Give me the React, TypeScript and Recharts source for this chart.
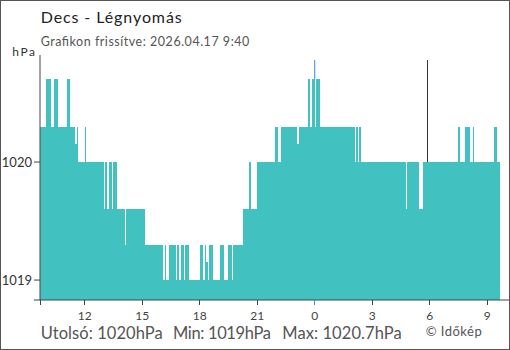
import { ComposedChart, Area, XAxis, YAxis, ReferenceLine } from 'recharts'

// station: Decs, 5-minute samples from 9:40 to 9:40 next day (hPa)
const pressure = [
  1020.3, 1020.3, 1020.3, 1020.3, 1020.7, 1020.7, 1020.7, 1020.3, 1020.3, 1020.7, 1020.7, 1020.3,
  1020.3, 1020.3, 1020.3, 1020.3, 1020.3, 1020.7, 1020.7, 1020.3, 1020.3, 1020.3, 1020.15, 1020.3,
  1020, 1020, 1020, 1020, 1020.3, 1020, 1020, 1020, 1020, 1020, 1020, 1020,
  1020, 1020, 1020, 1020, 1019.6, 1020, 1019.6, 1020, 1020, 1019.6, 1020, 1020,
  1019.6, 1019.6, 1019.6, 1019.6, 1019.6, 1019.3, 1019.6, 1019.6, 1019.6, 1019.6, 1019.6, 1019.6,
  1019.6, 1019.6, 1019.6, 1019.6, 1019.6, 1019.6, 1019.3, 1019.3, 1019.3, 1019.3, 1019.3, 1019.3,
  1019.3, 1019.3, 1019.3, 1019.3, 1019.3, 1019, 1019.3, 1019, 1019, 1019.3, 1019.3, 1019.3,
  1019.3, 1019, 1019.3, 1019, 1019.3, 1019.3, 1019, 1019.3, 1019.3, 1019, 1019, 1019,
  1019, 1019, 1019, 1019, 1019.3, 1019.3, 1019, 1019.3, 1019.15, 1019, 1019.3, 1019.3,
  1019, 1019, 1019, 1019, 1019, 1019.3, 1019.3, 1019, 1019, 1019, 1019.3, 1019.3,
  1019, 1019.3, 1019.3, 1019.3, 1019.3, 1019.3, 1019.3, 1019.6, 1019.6, 1019.6, 1019.6, 1020,
  1019.6, 1019.6, 1019.6, 1019.6, 1020, 1020, 1020, 1020, 1020, 1020, 1020, 1020,
  1020, 1020, 1020, 1020.3, 1020.3, 1020, 1020, 1020.3, 1020.3, 1020.3, 1020.3, 1020.3,
  1020.3, 1020.3, 1020.3, 1020.3, 1020.3, 1020.15, 1020.3, 1020.3, 1020.3, 1020.3, 1020.3, 1020.3,
  1020.7, 1020.3, 1020.7, 1020.7, 1020.3, 1020.7, 1020.7, 1020.3, 1020.3, 1020.3, 1020.3, 1020.3,
  1020.3, 1020.3, 1020.3, 1020.3, 1020.3, 1020.3, 1020.3, 1020.3, 1020.3, 1020.3, 1020.3, 1020.3,
  1020.3, 1020.3, 1020.3, 1020.3, 1020.3, 1020, 1020.3, 1020, 1020.3, 1020, 1020, 1020,
  1020, 1020, 1020, 1020, 1020, 1020, 1020, 1020, 1020, 1020, 1020, 1020,
  1020, 1020, 1020, 1020, 1020, 1020, 1020, 1020, 1020, 1020, 1020, 1020,
  1020, 1019.6, 1020, 1020, 1020, 1020, 1020, 1020, 1020, 1019.6, 1019.6, 1019.6,
  1020, 1020, 1020, 1020, 1020, 1020, 1020, 1020, 1020, 1020, 1020, 1020,
  1020, 1020, 1020, 1020, 1020, 1020, 1020, 1020, 1020, 1020, 1020.3, 1020,
  1020, 1020, 1020.3, 1020.3, 1020.3, 1020, 1020, 1020.3, 1020, 1020, 1020, 1020,
  1020, 1020, 1020, 1020, 1020, 1020, 1020, 1020, 1020.3, 1020.3, 1020, 1020,
]

const stepMinutes = 5
const startClock = '9:40'
const sunriseClock = '5:53'
const hourTicks = [12, 15, 18, 21, 0, 3, 6, 9]
const pressureTicks = [1019, 1020]

const TEAL = '#42c1c1'
const BLUE = '#2b8fdc'
const AXIS = '#444'
const FONT = 'Lato, "Noto Sans", sans-serif'

const toMin = (s: string) => {
  const [h, m] = s.split(':').map(Number)
  return h * 60 + m
}
const start = toMin(startClock)
const sinceStart = (clockMin: number) => (clockMin - start + 1440) % 1440

const data = pressure
  .map((p, i) => ({ t: i * stepMinutes, p }))
  .concat({ t: 1440, p: pressure[pressure.length - 1] })

const xTicks = [0, ...hourTicks.map((h) => sinceStart(h * 60))]
const midnight = sinceStart(0)
const sunrise = sinceStart(toMin(sunriseClock))
const valueBefore = (t: number) => pressure[Math.floor(t / stepMinutes) - 1]

const Y_MIN = 1018.831
const Y_MAX = 1020.907
const LINE_TOP = 1020.864

const last = pressure[pressure.length - 1]
const min = Math.min(...pressure)
const max = Math.max(...pressure)

function HourTick(props: any) {
  const { x, y, payload } = props
  const axisY = y - 4
  const t = payload.value
  const label = t === 0 ? '' : String(Math.floor((start + t) / 60) % 24)
  return (
    <g>
      <line
        x1={x}
        x2={x}
        y1={axisY}
        y2={axisY + 5}
        stroke={t === midnight ? BLUE : AXIS}
        shapeRendering="crispEdges"
      />
      <text x={x} y={axisY + 20} textAnchor="middle" fontSize={12} fill={AXIS} fontFamily={FONT}>
        {label}
      </text>
    </g>
  )
}

export default function App() {
  return (
    <div style={{ position: 'fixed', left: 0, top: 0, width: 510, height: 350, background: '#fff', fontFamily: FONT }}>
      <div style={{ position: 'absolute', left: 0, top: 0 }}>
        <ComposedChart width={510} height={350} data={data} margin={{ top: 55, right: 10, bottom: 20, left: 0 }}>
          <XAxis
            dataKey="t"
            type="number"
            domain={[0, 1440]}
            ticks={xTicks}
            allowDataOverflow
            axisLine={false}
            tickLine={false}
            tickSize={0}
            tickMargin={4}
            height={30}
            interval={0}
            tick={<HourTick />}
          />
          <YAxis
            type="number"
            domain={[Y_MIN, Y_MAX]}
            ticks={pressureTicks}
            allowDataOverflow
            width={40}
            tickSize={6}
            tickMargin={2}
            stroke={AXIS}
            tick={{ fontSize: 13, fill: '#333', fontFamily: FONT }}
          />
          <ReferenceLine
            segment={[{ x: midnight, y: LINE_TOP }, { x: midnight, y: valueBefore(midnight) }]}
            stroke={BLUE}
            ifOverflow="visible"
          />
          <ReferenceLine
            segment={[{ x: sunrise, y: LINE_TOP }, { x: sunrise, y: valueBefore(sunrise) }]}
            stroke="#333"
            ifOverflow="visible"
          />
          <Area
            dataKey="p"
            type="stepAfter"
            stroke="none"
            fill={TEAL}
            fillOpacity={1}
            isAnimationActive={false}
            shapeRendering="crispEdges"
          />
          <ReferenceLine
            segment={[{ x: -19, y: Y_MIN }, { x: 1472, y: Y_MIN }]}
            stroke={AXIS}
            ifOverflow="visible"
          />
        </ComposedChart>
      </div>
      <svg width={510} height={350} style={{ position: 'absolute', left: 0, top: 0, pointerEvents: 'none' }} fontFamily={FONT}>
        <text x={40.7} y={23.3} fontSize={16} fill="#222" textLength={141} lengthAdjust="spacing">
          Decs - Légnyomás
        </text>
        <text x={40.7} y={46} fontSize={12.5} fill="#555" textLength={208.6} lengthAdjust="spacing">
          Grafikon frissítve: 2026.04.17 9:40
        </text>
        <text x={12.3} y={55.5} fontSize={12} fill="#333" textLength={22.7} lengthAdjust="spacing">
          hPa
        </text>
        <text x={40.7} y={339.3} fontSize={16.5} fill="#555" textLength={122} lengthAdjust="spacing">
          {`Utolsó: ${last}hPa`}
        </text>
        <text x={173} y={339.3} fontSize={16.5} fill="#555" textLength={98} lengthAdjust="spacing">
          {`Min: ${min}hPa`}
        </text>
        <text x={282.3} y={339.3} fontSize={16.5} fill="#555" textLength={119.4} lengthAdjust="spacing">
          {`Max: ${max}hPa`}
        </text>
        <text x={425.7} y={336} fontSize={13} fill="#555" textLength={56} lengthAdjust="spacing">
          © Időkép
        </text>
      </svg>
      <div
        style={{
          position: 'absolute',
          inset: 0,
          border: '1px solid #555',
          boxSizing: 'border-box',
          pointerEvents: 'none',
        }}
      />
    </div>
  )
}
